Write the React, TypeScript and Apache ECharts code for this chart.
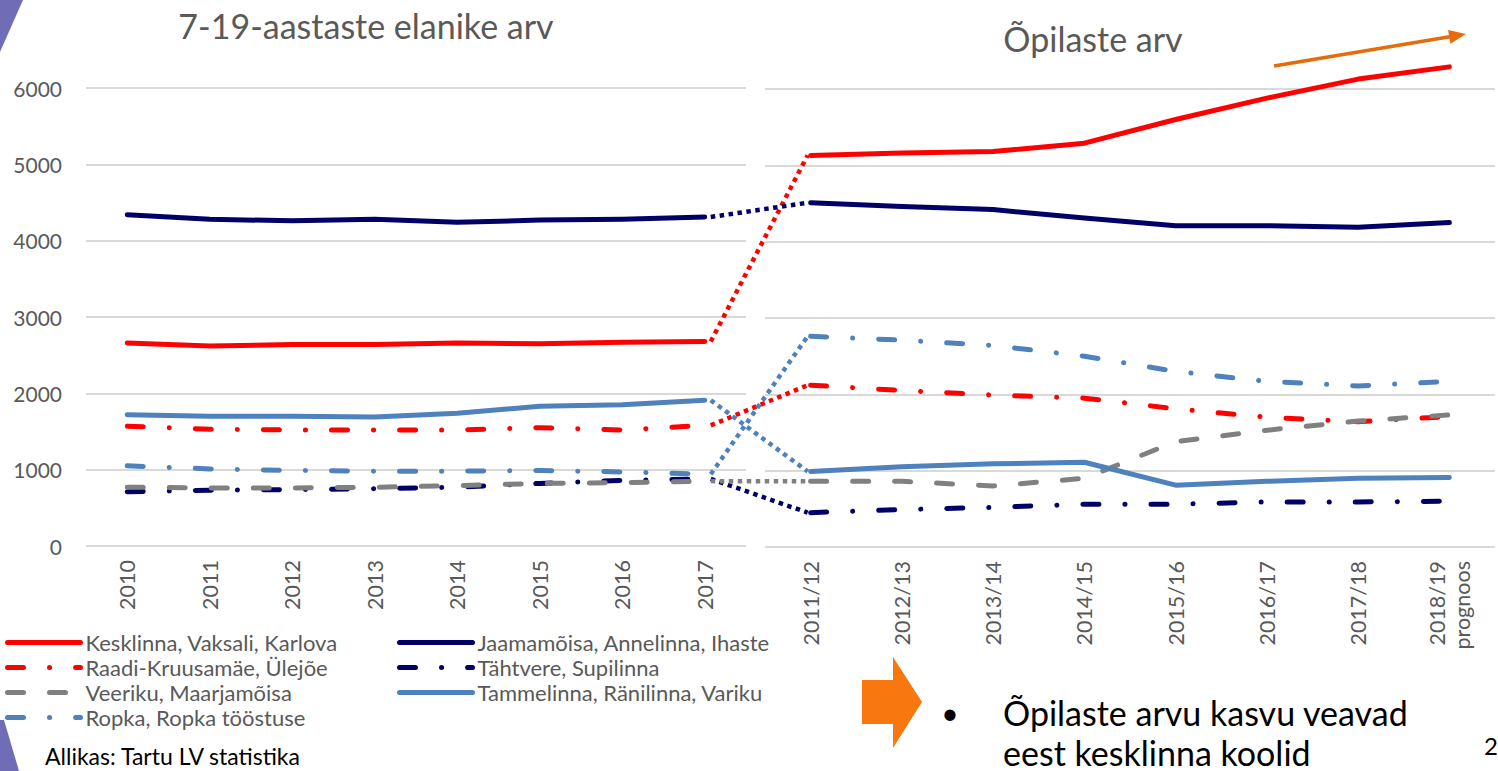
import React, { useEffect, useRef } from 'react';
import * as echarts from 'echarts';

// ---------- data ----------
const leftYears = ['2010', '2011', '2012', '2013', '2014', '2015', '2016', '2017'];
const rightYears = ['2011/12', '2012/13', '2013/14', '2014/15', '2015/16', '2016/17', '2017/18', '2018/19\nprognoos'];

const seriesNames = [
  'Kesklinna, Vaksali, Karlova',
  'Jaamamõisa, Annelinna, Ihaste',
  'Raadi-Kruusamäe, Ülejõe',
  'Tähtvere, Supilinna',
  'Veeriku, Maarjamõisa',
  'Tammelinna, Ränilinna, Variku',
  'Ropka, Ropka tööstuse',
];

// 7-19-aastaste elanike arv (left)
const leftKesklinna = [2660, 2620, 2640, 2640, 2660, 2650, 2670, 2680];
const leftJaamamoisa = [4340, 4280, 4260, 4280, 4240, 4270, 4280, 4310];
const leftRaadi = [1570, 1530, 1520, 1520, 1520, 1550, 1520, 1580];
const leftTahtvere = [710, 730, 740, 750, 770, 820, 860, 880];
const leftVeeriku = [770, 760, 760, 770, 790, 820, 830, 850];
const leftTammelinna = [1720, 1700, 1700, 1690, 1740, 1830, 1850, 1910];
const leftRopka = [1050, 1010, 990, 980, 980, 990, 970, 940];

// Õpilaste arv (right)
const rightKesklinna = [5130, 5160, 5180, 5290, 5600, 5880, 6130, 6290];
const rightJaamamoisa = [4510, 4460, 4420, 4310, 4210, 4210, 4190, 4250];
const rightRaadi = [2120, 2050, 1990, 1950, 1810, 1700, 1640, 1710];
const rightTahtvere = [450, 490, 520, 560, 560, 590, 590, 600];
const rightVeeriku = [860, 860, 800, 900, 1380, 1530, 1650, 1730];
const rightTammelinna = [990, 1050, 1090, 1110, 810, 860, 900, 910];
const rightRopka = [2760, 2710, 2640, 2500, 2300, 2170, 2110, 2170];

const leftData = [leftKesklinna, leftJaamamoisa, leftRaadi, leftTahtvere, leftVeeriku, leftTammelinna, leftRopka];
const rightData = [rightKesklinna, rightJaamamoisa, rightRaadi, rightTahtvere, rightVeeriku, rightTammelinna, rightRopka];

// ---------- styles ----------
const RED = '#FF0000';
const NAVY = '#000066';
const GRAY = '#808080';
const BLUE = '#4F81BD';
const DASH_DOT = [16, 26, 0.1, 26];
const DASHED = [16, 26];
const styles: { color: string; type: any }[] = [
  { color: RED, type: 'solid' },
  { color: NAVY, type: 'solid' },
  { color: RED, type: DASH_DOT },
  { color: NAVY, type: DASH_DOT },
  { color: GRAY, type: DASHED },
  { color: BLUE, type: 'solid' },
  { color: BLUE, type: DASH_DOT },
];

const FONT = 'Lato, "Open Sans", sans-serif';
const LABEL = '#595959';
const GRID_LINE = '#D9D9D9';

function mkSeries(name: string, data: number[], idx: number, st: { color: string; type: any }) {
  return {
    type: 'line',
    name,
    data,
    xAxisIndex: idx,
    yAxisIndex: idx,
    symbol: 'none',
    clip: false,
    silent: true,
    lineStyle: { color: st.color, width: 5, type: st.type, cap: 'round', join: 'round' },
    itemStyle: { color: st.color },
    emphasis: { disabled: true },
  };
}

function yAxis(idx: number, showLabels: boolean) {
  return {
    type: 'value',
    gridIndex: idx,
    min: 0,
    max: 6000,
    interval: 1000,
    axisLine: { show: false },
    axisTick: { show: false },
    axisLabel: {
      show: showLabels,
      color: LABEL,
      fontSize: 21,
      fontFamily: FONT,
      margin: 24,
      formatter: (v: number) => String(v),
    },
    splitLine: { show: true, lineStyle: { color: GRID_LINE, width: 2 } },
  };
}

function xAxis(idx: number, cats: string[]) {
  return {
    type: 'category',
    gridIndex: idx,
    data: cats,
    boundaryGap: true,
    axisLine: { show: false },
    axisTick: { show: false },
    axisLabel: {
      interval: 0,
      rotate: 90,
      margin: 14,
      color: LABEL,
      fontSize: 21.5,
      lineHeight: 25,
      fontFamily: FONT,
    },
    splitLine: { show: false },
  };
}

export default function App() {
  const ref = useRef<HTMLDivElement>(null);

  useEffect(() => {
    if (!ref.current) return;
    const chart = echarts.init(ref.current, null, { renderer: 'svg' });

    const series: any[] = [];
    seriesNames.forEach((n, i) => {
      series.push(mkSeries(n, leftData[i], 0, styles[i]));
      series.push(mkSeries(n, rightData[i], 1, styles[i]));
    });

    const legendCommon = {
      orient: 'vertical',
      top: 630,
      itemWidth: 73,
      itemHeight: 14,
      itemGap: 0,
      selectedMode: false,
      textStyle: { color: LABEL, fontSize: 22, fontFamily: FONT, lineHeight: 25, padding: [0, 0, 0, 0] },
      lineStyle: { width: 5 },
      itemStyle: { opacity: 0 },
      padding: 0,
    };

    chart.setOption({
      animation: false,
      backgroundColor: '#ffffff',
      grid: [
        { left: 86, top: 88, width: 660, height: 458, containLabel: false },
        { left: 765, top: 89, width: 730, height: 458, containLabel: false },
      ],
      xAxis: [xAxis(0, leftYears), xAxis(1, rightYears)],
      yAxis: [yAxis(0, true), yAxis(1, false)],
      legend: [
        { ...legendCommon, left: 5, data: [seriesNames[0], seriesNames[2], seriesNames[4], seriesNames[6]] },
        { ...legendCommon, left: 397, data: [seriesNames[1], seriesNames[3], seriesNames[5]] },
      ],
      series,
    });

    // connectors from the last left point to the first right point
    const connectors: any[] = seriesNames.map((n, i) => {
      const p1 = chart.convertToPixel({ xAxisIndex: 0, yAxisIndex: 0 } as any, [leftData[i].length - 1, leftData[i][leftData[i].length - 1]]) as number[];
      const p2 = chart.convertToPixel({ xAxisIndex: 1, yAxisIndex: 1 } as any, [0, rightData[i][0]]) as number[];
      return {
        type: 'line',
        silent: true,
        z: 5,
        shape: { x1: p1[0] + 6, y1: p1[1], x2: p2[0] - 3, y2: p2[1] },
        style: { stroke: styles[i].color, lineWidth: 4.5, lineDash: [4.5, 4.5], lineCap: 'butt' },
      };
    });

    // orange arrow head geometry
    const tip = [1466, 34];
    const start = [1274, 66];
    const dx = tip[0] - start[0];
    const dy = tip[1] - start[1];
    const len = Math.sqrt(dx * dx + dy * dy);
    const ux = dx / len;
    const uy = dy / len;
    const hl = 17;
    const hw = 7;
    const bx = tip[0] - ux * hl;
    const by = tip[1] - uy * hl;

    const decorations: any[] = [
      // purple corner shapes
      { type: 'polygon', silent: true, shape: { points: [[0, 0], [23, 0], [0, 52]] }, style: { fill: '#6F6DB5' } },
      { type: 'polygon', silent: true, shape: { points: [[0, 720], [4, 720], [19, 771], [0, 771]] }, style: { fill: '#6F6DB5' } },
      // titles
      {
        type: 'text', silent: true, x: 366, y: 25,
        style: { text: '7-19-aastaste elanike arv', fill: LABEL, fontSize: 34, fontFamily: FONT, align: 'center', verticalAlign: 'middle' },
      },
      {
        type: 'text', silent: true, x: 1093, y: 38,
        style: { text: 'Õpilaste arv', fill: LABEL, fontSize: 34, fontFamily: FONT, align: 'center', verticalAlign: 'middle' },
      },
      // orange trend arrow
      {
        type: 'line', silent: true,
        shape: { x1: start[0], y1: start[1], x2: bx + ux * 2, y2: by + uy * 2 },
        style: { stroke: '#E46C0A', lineWidth: 3.5 },
      },
      {
        type: 'polygon', silent: true,
        shape: { points: [[tip[0], tip[1]], [bx - uy * hw, by + ux * hw], [bx + uy * hw, by - ux * hw]] },
        style: { fill: '#E46C0A' },
      },
      // block arrow
      {
        type: 'polygon', silent: true,
        shape: { points: [[862, 680], [893, 680], [893, 657], [922, 702], [893, 748], [893, 724], [862, 724]] },
        style: { fill: '#F8770F' },
      },
      {
        type: 'text', silent: true, x: 950, y: 712,
        style: { text: '•', fill: '#000000', fontSize: 30, fontFamily: FONT, align: 'center', verticalAlign: 'middle' },
      },
      {
        type: 'text', silent: true, x: 1003, y: 712,
        style: { text: 'Õpilaste arvu kasvu veavad', fill: '#000000', fontSize: 34, fontFamily: FONT, align: 'left', verticalAlign: 'middle' },
      },
      {
        type: 'text', silent: true, x: 1003, y: 752,
        style: { text: 'eest kesklinna koolid', fill: '#000000', fontSize: 34, fontFamily: FONT, align: 'left', verticalAlign: 'middle' },
      },
      {
        type: 'text', silent: true, x: 45, y: 756,
        style: { text: 'Allikas: Tartu LV statistika', fill: '#000000', fontSize: 23, fontFamily: FONT, align: 'left', verticalAlign: 'middle' },
      },
      {
        type: 'text', silent: true, x: 1484, y: 745,
        style: { text: '2', fill: '#000000', fontSize: 24, fontFamily: FONT, align: 'left', verticalAlign: 'middle' },
      },
    ];

    chart.setOption({ graphic: [...connectors, ...decorations] });

    return () => {
      chart.dispose();
    };
  }, []);

  return (
    <div
      ref={ref}
      style={{ position: 'fixed', left: 0, top: 0, width: 1498, height: 771, background: '#fff' }}
    />
  );
}
